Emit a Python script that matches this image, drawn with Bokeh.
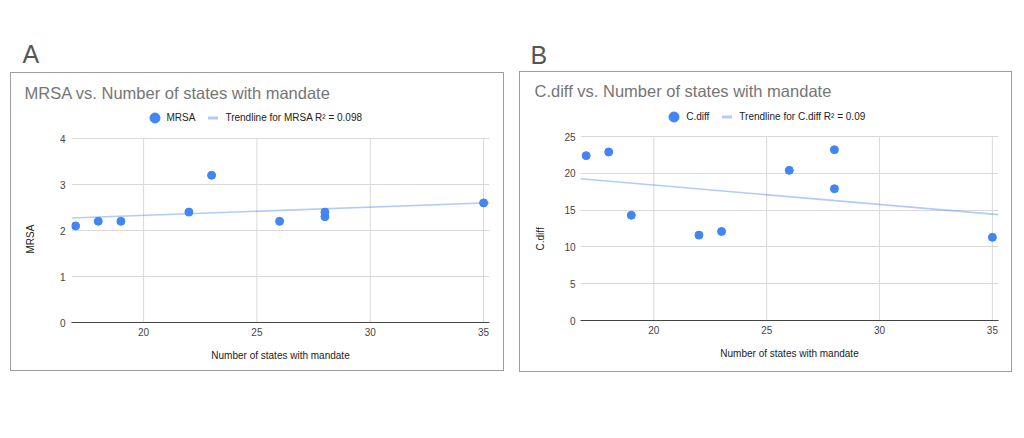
import numpy as np
from bokeh.plotting import figure
from bokeh.layouts import row, column
from bokeh.models import (Label, Legend, LegendItem, FixedTicker, Range1d, Title)
from bokeh.embed import file_html
from bokeh.resources import INLINE

# ---------------- data ----------------
states = [17, 18, 19, 22, 23, 26, 28, 28, 35]
mrsa = [2.1, 2.2, 2.2, 2.4, 3.2, 2.2, 2.4, 2.3, 2.6]
cdiff = [22.4, 22.9, 14.3, 11.6, 12.1, 20.4, 23.2, 17.9, 11.3]

x_ticks = [20, 25, 30, 35]
mrsa_ticks = [0, 1, 2, 3, 4]
cdiff_ticks = [0, 5, 10, 15, 20, 25]

mrsa_r2_label = "Trendline for MRSA R\u00b2 = 0.098"
cdiff_r2_label = "Trendline for C.diff R\u00b2 = 0.09"

FONT = "Liberation Sans"
BLUE = "#4285F4"
GRID = "#d9d9d9"
BOX = "#9e9e9e"

PLOT_H = 184      # pixel height of the value area
LEGEND_H = 35     # extra frame space above the value area that holds the legend


def box_css(left, width):
    return (":host::after { content: ''; position: absolute; left: %spx; top: 0; "
            "width: %spx; bottom: 0; border: 1.5px solid %s; box-sizing: border-box; "
            "pointer-events: none; z-index: 50; }" % (left, width, BOX))


def no_align(f):
    if "frame_align" in f.properties():
        f.frame_align = False
    return f


def letter_fig(letter, lx, ly, height):
    f = figure(width=512, height=height, min_border=0,
               x_range=Range1d(0, 512), y_range=Range1d(0, height),
               x_axis_location=None, y_axis_location=None,
               output_backend="svg", toolbar_location=None)
    no_align(f)
    f.grid.visible = False
    f.outline_line_color = None
    f.add_layout(Label(x=lx, y=height - ly, x_units="screen", y_units="screen",
                       text=letter, text_font=FONT, text_font_size="25px",
                       text_color="#555555", text_baseline="middle", text_align="left"))
    return f


def panel(title, xs, ys, yname, yticks, xr, trend_label,
          mb_left, height, mb_top, box_left, title_offset, leg_xy,
          ylab_standoff, ylab_offset, ytick_standoff):
    width = 512
    fh = PLOT_H + LEGEND_H
    y_top = yticks[-1] * fh / PLOT_H
    p = figure(frame_width=418, frame_height=fh,
               min_border_left=mb_left, min_border_right=width - mb_left - 418,
               min_border_top=mb_top, min_border_bottom=height - mb_top - fh,
               x_range=Range1d(*xr), y_range=Range1d(yticks[0], y_top),
               output_backend="svg", toolbar_location=None)
    no_align(p)
    p.stylesheets = [box_css(box_left, 493.5)]
    p.outline_line_color = None
    p.background_fill_color = "white"
    p.border_fill_color = "white"

    # chart title
    p.title.text = title
    p.title.align = "left"
    p.title.offset = title_offset
    p.title.text_font = FONT
    p.title.text_font_size = "16.5px"
    p.title.text_font_style = "normal"
    p.title.text_color = "#757575"
    p.title.standoff = 3

    # grid: horizontal from the grid model, vertical lines stop at the top tick
    p.xgrid.visible = False
    p.ygrid.ticker = FixedTicker(ticks=yticks)
    p.ygrid.grid_line_color = GRID
    p.ygrid.grid_line_width = 1
    p.segment(x0=x_ticks, y0=[yticks[0]] * len(x_ticks), x1=x_ticks,
              y1=[yticks[-1]] * len(x_ticks), line_color=GRID, line_width=1)

    # axes
    p.xaxis.ticker = FixedTicker(ticks=x_ticks)
    p.yaxis.ticker = FixedTicker(ticks=yticks)
    for ax in p.axis:
        ax.major_tick_line_color = None
        ax.minor_tick_line_color = None
        ax.major_tick_out = 0
        ax.major_tick_in = 0
        ax.minor_tick_out = 0
        ax.major_label_text_font = FONT
        ax.major_label_text_font_size = "10px"
        ax.major_label_text_color = "#444444"
        ax.axis_label_text_font = FONT
        ax.axis_label_text_font_size = "10px"
        ax.axis_label_text_font_style = "normal"
        ax.axis_label_text_color = "#222222"
    p.xaxis.axis_line_color = "#444444"
    p.xaxis.axis_line_width = 1
    p.yaxis.axis_line_color = None
    p.xaxis.axis_label = "Number of states with mandate"
    p.xaxis.major_label_standoff = 5
    p.xaxis.axis_label_standoff = 11
    p.yaxis.major_label_standoff = ytick_standoff

    # y axis title, centred on the value area (not on the whole frame)
    p.add_layout(Title(text=yname, align="left", offset=ylab_offset,
                       text_font=FONT, text_font_size="10px", text_font_style="normal",
                       text_color="#222222", standoff=ylab_standoff), "left")

    # data
    r_pts = p.scatter(xs, ys, size=8, color=BLUE)
    slope, icpt = np.polyfit(np.array(xs, float), np.array(ys, float), 1)
    tx = [xr[0], xr[1]]
    ty = [slope * v + icpt for v in tx]
    p.line(tx, ty, line_color=BLUE, line_alpha=0.42, line_width=1.6)
    # hidden legend proxy for the trendline (short thick dash like the original legend)
    r_dash = p.scatter(x=tx, y=ty, marker="dash", size=10, line_color=BLUE,
                       line_alpha=0.42, line_width=3)
    r_dash.visible = False

    leg = Legend(items=[LegendItem(label=yname, renderers=[r_pts]),
                        LegendItem(label=trend_label, renderers=[r_dash])],
                 location=leg_xy, orientation="horizontal",
                 glyph_width=25, glyph_height=25, label_height=25,
                 label_standoff=0, padding=0, margin=0, spacing=5,
                 background_fill_alpha=0, border_line_color=None,
                 inactive_fill_alpha=0,
                 label_text_font=FONT, label_text_font_size="10px",
                 label_text_color="#222222")
    p.add_layout(leg, "center")
    return p


lf1 = letter_fig("A", 22, 53, 72)
p1 = panel("MRSA vs. Number of states with mandate", states, mrsa, "MRSA",
           mrsa_ticks, (16.82, 35.26), mrsa_r2_label,
           mb_left=71, height=299, mb_top=31, box_left=10, title_offset=-47,
           leg_xy=(70.5, 191.8), ylab_standoff=42, ylab_offset=69, ytick_standoff=6)

lf2 = letter_fig("B", 18, 54, 71)
p2 = panel("C.diff vs. Number of states with mandate", states, cdiff, "C.diff",
           cdiff_ticks, (16.75, 35.27), cdiff_r2_label,
           mb_left=68, height=301, mb_top=30, box_left=6.5, title_offset=-46,
           leg_xy=(81.2, 191.5), ylab_standoff=32, ylab_offset=70, ytick_standoff=5)

layout = row(column(lf1, p1), column(lf2, p2))
open("out.html", "w").write(file_html(layout, INLINE))
